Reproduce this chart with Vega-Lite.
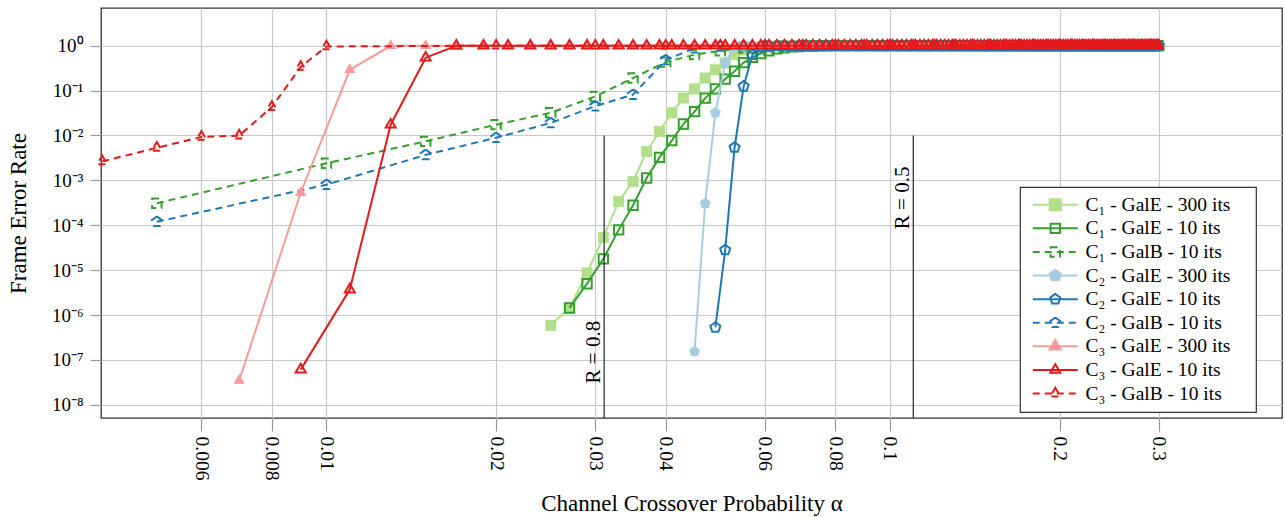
{
"$schema": "https://vega.github.io/schema/vega-lite/v6.json",
"width": 1181, "height": 410,
"autosize": {"type": "none"},
"padding": {"left": 101, "top": 8, "right": 3, "bottom": 99},
"background": "white",
"config": {
  "view": {"stroke": "#333333", "strokeWidth": 1.3},
  "legend": {"orient": "none", "legendX": 919, "legendY": 179, "padding": 8, "strokeColor": "#333333", "strokeWidth": 1.2, "fillColor": "white", "cornerRadius": 0, "labelFont": "Liberation Serif", "labelFontSize": 19.5, "labelColor": "black", "labelOffset": 38, "symbolSize": 144, "symbolStrokeWidth": 2, "symbolOpacity": 1, "rowPadding": 2.6, "labelLimit": 400}
},
"datasets": {
"a": [{"x":0.025,"y":5.9e-7},{"x":0.027,"y":1.44e-6},{"x":0.029,"y":8.7e-6},{"x":0.031,"y":5.3e-5},{"x":0.033,"y":3.4e-4},{"x":0.035,"y":9.5e-4},{"x":0.037,"y":4.4e-3},{"x":0.039,"y":0.0123},{"x":0.041,"y":0.032},{"x":0.043,"y":0.068},{"x":0.045,"y":0.109},{"x":0.047,"y":0.19},{"x":0.049,"y":0.29},{"x":0.051,"y":0.41},{"x":0.053,"y":0.63},{"x":0.055,"y":0.8},{"x":0.057,"y":0.9},{"x":0.059,"y":0.95},{"x":0.061,"y":0.975},{"x":0.063,"y":0.99},{"x":0.065,"y":0.995},
{"x":0.067,"y":1},{"x":0.069,"y":1},{"x":0.071,"y":1},{"x":0.073,"y":1},{"x":0.075,"y":1},{"x":0.077,"y":1},{"x":0.079,"y":1},{"x":0.081,"y":1},{"x":0.083,"y":1},{"x":0.085,"y":1},{"x":0.087,"y":1},{"x":0.089,"y":1},{"x":0.091,"y":1},{"x":0.093,"y":1},{"x":0.095,"y":1},{"x":0.097,"y":1},{"x":0.099,"y":1},
{"x":0.101,"y":1},{"x":0.103,"y":1},{"x":0.105,"y":1},{"x":0.107,"y":1},{"x":0.109,"y":1},{"x":0.111,"y":1},{"x":0.113,"y":1},{"x":0.115,"y":1},{"x":0.117,"y":1},{"x":0.119,"y":1},{"x":0.121,"y":1},{"x":0.123,"y":1},{"x":0.125,"y":1},{"x":0.127,"y":1},{"x":0.129,"y":1},{"x":0.131,"y":1},{"x":0.133,"y":1},{"x":0.135,"y":1},{"x":0.137,"y":1},{"x":0.139,"y":1},{"x":0.141,"y":1},{"x":0.143,"y":1},{"x":0.145,"y":1},{"x":0.147,"y":1},{"x":0.149,"y":1},{"x":0.151,"y":1},{"x":0.153,"y":1},{"x":0.155,"y":1},{"x":0.157,"y":1},{"x":0.159,"y":1},{"x":0.161,"y":1},{"x":0.163,"y":1},{"x":0.165,"y":1},{"x":0.167,"y":1},{"x":0.169,"y":1},{"x":0.171,"y":1},{"x":0.173,"y":1},{"x":0.175,"y":1},{"x":0.177,"y":1},{"x":0.179,"y":1},{"x":0.181,"y":1},{"x":0.183,"y":1},{"x":0.185,"y":1},{"x":0.187,"y":1},{"x":0.189,"y":1},{"x":0.191,"y":1},{"x":0.193,"y":1},{"x":0.195,"y":1},{"x":0.197,"y":1},{"x":0.199,"y":1},
{"x":0.201,"y":1},{"x":0.203,"y":1},{"x":0.205,"y":1},{"x":0.207,"y":1},{"x":0.209,"y":1},{"x":0.211,"y":1},{"x":0.213,"y":1},{"x":0.215,"y":1},{"x":0.217,"y":1},{"x":0.219,"y":1},{"x":0.221,"y":1},{"x":0.223,"y":1},{"x":0.225,"y":1},{"x":0.227,"y":1},{"x":0.229,"y":1},{"x":0.231,"y":1},{"x":0.233,"y":1},{"x":0.235,"y":1},{"x":0.237,"y":1},{"x":0.239,"y":1},{"x":0.241,"y":1},{"x":0.243,"y":1},{"x":0.245,"y":1},{"x":0.247,"y":1},{"x":0.249,"y":1},{"x":0.251,"y":1},{"x":0.253,"y":1},{"x":0.255,"y":1},{"x":0.257,"y":1},{"x":0.259,"y":1},{"x":0.261,"y":1},{"x":0.263,"y":1},{"x":0.265,"y":1},{"x":0.267,"y":1},{"x":0.269,"y":1},{"x":0.271,"y":1},{"x":0.273,"y":1},{"x":0.275,"y":1},{"x":0.277,"y":1},{"x":0.279,"y":1},{"x":0.281,"y":1},{"x":0.283,"y":1},{"x":0.285,"y":1},{"x":0.287,"y":1},{"x":0.289,"y":1},{"x":0.291,"y":1},{"x":0.293,"y":1},{"x":0.295,"y":1},{"x":0.297,"y":1},{"x":0.299,"y":1}],
"b": [{"x":0.027,"y":1.44e-6},{"x":0.029,"y":5e-6},{"x":0.031,"y":1.78e-5},{"x":0.033,"y":7.9e-5},{"x":0.035,"y":2.8e-4},{"x":0.037,"y":1.13e-3},{"x":0.039,"y":3.25e-3},{"x":0.041,"y":7.7e-3},{"x":0.043,"y":0.018},{"x":0.045,"y":0.034},{"x":0.047,"y":0.068},{"x":0.049,"y":0.109},{"x":0.051,"y":0.18},{"x":0.053,"y":0.27},{"x":0.055,"y":0.42},{"x":0.057,"y":0.55},{"x":0.059,"y":0.67},{"x":0.061,"y":0.77},{"x":0.063,"y":0.85},{"x":0.065,"y":0.9},{"x":0.067,"y":0.94},{"x":0.069,"y":0.96},{"x":0.071,"y":0.975},{"x":0.073,"y":0.985},{"x":0.075,"y":0.99},{"x":0.077,"y":0.995},
{"x":0.079,"y":1},{"x":0.081,"y":1},{"x":0.083,"y":1},{"x":0.085,"y":1},{"x":0.087,"y":1},{"x":0.089,"y":1},{"x":0.091,"y":1},{"x":0.093,"y":1},{"x":0.095,"y":1},{"x":0.097,"y":1},{"x":0.099,"y":1},
{"x":0.101,"y":1},{"x":0.103,"y":1},{"x":0.105,"y":1},{"x":0.107,"y":1},{"x":0.109,"y":1},{"x":0.111,"y":1},{"x":0.113,"y":1},{"x":0.115,"y":1},{"x":0.117,"y":1},{"x":0.119,"y":1},{"x":0.121,"y":1},{"x":0.123,"y":1},{"x":0.125,"y":1},{"x":0.127,"y":1},{"x":0.129,"y":1},{"x":0.131,"y":1},{"x":0.133,"y":1},{"x":0.135,"y":1},{"x":0.137,"y":1},{"x":0.139,"y":1},{"x":0.141,"y":1},{"x":0.143,"y":1},{"x":0.145,"y":1},{"x":0.147,"y":1},{"x":0.149,"y":1},{"x":0.151,"y":1},{"x":0.153,"y":1},{"x":0.155,"y":1},{"x":0.157,"y":1},{"x":0.159,"y":1},{"x":0.161,"y":1},{"x":0.163,"y":1},{"x":0.165,"y":1},{"x":0.167,"y":1},{"x":0.169,"y":1},{"x":0.171,"y":1},{"x":0.173,"y":1},{"x":0.175,"y":1},{"x":0.177,"y":1},{"x":0.179,"y":1},{"x":0.181,"y":1},{"x":0.183,"y":1},{"x":0.185,"y":1},{"x":0.187,"y":1},{"x":0.189,"y":1},{"x":0.191,"y":1},{"x":0.193,"y":1},{"x":0.195,"y":1},{"x":0.197,"y":1},{"x":0.199,"y":1},
{"x":0.201,"y":1},{"x":0.203,"y":1},{"x":0.205,"y":1},{"x":0.207,"y":1},{"x":0.209,"y":1},{"x":0.211,"y":1},{"x":0.213,"y":1},{"x":0.215,"y":1},{"x":0.217,"y":1},{"x":0.219,"y":1},{"x":0.221,"y":1},{"x":0.223,"y":1},{"x":0.225,"y":1},{"x":0.227,"y":1},{"x":0.229,"y":1},{"x":0.231,"y":1},{"x":0.233,"y":1},{"x":0.235,"y":1},{"x":0.237,"y":1},{"x":0.239,"y":1},{"x":0.241,"y":1},{"x":0.243,"y":1},{"x":0.245,"y":1},{"x":0.247,"y":1},{"x":0.249,"y":1},{"x":0.251,"y":1},{"x":0.253,"y":1},{"x":0.255,"y":1},{"x":0.257,"y":1},{"x":0.259,"y":1},{"x":0.261,"y":1},{"x":0.263,"y":1},{"x":0.265,"y":1},{"x":0.267,"y":1},{"x":0.269,"y":1},{"x":0.271,"y":1},{"x":0.273,"y":1},{"x":0.275,"y":1},{"x":0.277,"y":1},{"x":0.279,"y":1},{"x":0.281,"y":1},{"x":0.283,"y":1},{"x":0.285,"y":1},{"x":0.287,"y":1},{"x":0.289,"y":1},{"x":0.291,"y":1},{"x":0.293,"y":1},{"x":0.295,"y":1},{"x":0.297,"y":1},{"x":0.299,"y":1}],
"c": [{"x":0.005,"y":3.1e-4},{"x":0.01,"y":2.4e-3},{"x":0.015,"y":7.4e-3},{"x":0.02,"y":0.0174},{"x":0.025,"y":0.032},{"x":0.03,"y":0.074},{"x":0.035,"y":0.19},{"x":0.04,"y":0.43},{"x":0.045,"y":0.63},{"x":0.05,"y":0.77},{"x":0.055,"y":0.88},{"x":0.06,"y":0.94},{"x":0.065,"y":0.97},{"x":0.07,"y":0.985},{"x":0.075,"y":0.995},{"x":0.08,"y":1},{"x":0.085,"y":1},{"x":0.09,"y":1},{"x":0.095,"y":1},{"x":0.1,"y":1},{"x":0.105,"y":1},{"x":0.11,"y":1},{"x":0.115,"y":1},{"x":0.12,"y":1},{"x":0.125,"y":1},{"x":0.13,"y":1},{"x":0.135,"y":1},{"x":0.14,"y":1},{"x":0.145,"y":1},{"x":0.15,"y":1},{"x":0.155,"y":1},{"x":0.16,"y":1},{"x":0.165,"y":1},{"x":0.17,"y":1},{"x":0.175,"y":1},{"x":0.18,"y":1},{"x":0.185,"y":1},{"x":0.19,"y":1},{"x":0.195,"y":1},{"x":0.2,"y":1},{"x":0.205,"y":1},{"x":0.21,"y":1},{"x":0.215,"y":1},{"x":0.22,"y":1},{"x":0.225,"y":1},{"x":0.23,"y":1},{"x":0.235,"y":1},{"x":0.24,"y":1},{"x":0.245,"y":1},{"x":0.25,"y":1},{"x":0.255,"y":1},{"x":0.26,"y":1},{"x":0.265,"y":1},{"x":0.27,"y":1},{"x":0.275,"y":1},{"x":0.28,"y":1},{"x":0.285,"y":1},{"x":0.29,"y":1},{"x":0.295,"y":1},{"x":0.3,"y":1}],
"d": [{"x":0.005,"y":1.2e-4},{"x":0.01,"y":8e-4},{"x":0.015,"y":3.7e-3},{"x":0.02,"y":8.9e-3},{"x":0.025,"y":0.019},{"x":0.03,"y":0.045},{"x":0.035,"y":0.081},{"x":0.04,"y":0.48},{"x":0.045,"y":0.88},{"x":0.05,"y":0.96},{"x":0.055,"y":0.99},{"x":0.06,"y":1},{"x":0.065,"y":1},{"x":0.07,"y":1},{"x":0.075,"y":1},{"x":0.08,"y":1},{"x":0.085,"y":1},{"x":0.09,"y":1},{"x":0.095,"y":1},{"x":0.1,"y":1},{"x":0.105,"y":1},{"x":0.11,"y":1},{"x":0.115,"y":1},{"x":0.12,"y":1},{"x":0.125,"y":1},{"x":0.13,"y":1},{"x":0.135,"y":1},{"x":0.14,"y":1},{"x":0.145,"y":1},{"x":0.15,"y":1},{"x":0.155,"y":1},{"x":0.16,"y":1},{"x":0.165,"y":1},{"x":0.17,"y":1},{"x":0.175,"y":1},{"x":0.18,"y":1},{"x":0.185,"y":1},{"x":0.19,"y":1},{"x":0.195,"y":1},{"x":0.2,"y":1},{"x":0.205,"y":1},{"x":0.21,"y":1},{"x":0.215,"y":1},{"x":0.22,"y":1},{"x":0.225,"y":1},{"x":0.23,"y":1},{"x":0.235,"y":1},{"x":0.24,"y":1},{"x":0.245,"y":1},{"x":0.25,"y":1},{"x":0.255,"y":1},{"x":0.26,"y":1},{"x":0.265,"y":1},{"x":0.27,"y":1},{"x":0.275,"y":1},{"x":0.28,"y":1},{"x":0.285,"y":1},{"x":0.29,"y":1},{"x":0.295,"y":1},{"x":0.3,"y":1}],
"e": [{"x":0.045,"y":1.55e-7},{"x":0.047,"y":3.1e-4},{"x":0.049,"y":0.032},{"x":0.051,"y":0.42},{"x":0.053,"y":0.93},{"x":0.055,"y":0.995},
{"x":0.057,"y":1},{"x":0.059,"y":1},{"x":0.061,"y":1},{"x":0.063,"y":1},{"x":0.065,"y":1},{"x":0.067,"y":1},{"x":0.069,"y":1},{"x":0.071,"y":1},{"x":0.073,"y":1},{"x":0.075,"y":1},{"x":0.077,"y":1},{"x":0.079,"y":1},{"x":0.081,"y":1},{"x":0.083,"y":1},{"x":0.085,"y":1},{"x":0.087,"y":1},{"x":0.089,"y":1},{"x":0.091,"y":1},{"x":0.093,"y":1},{"x":0.095,"y":1},{"x":0.097,"y":1},{"x":0.099,"y":1},
{"x":0.101,"y":1},{"x":0.103,"y":1},{"x":0.105,"y":1},{"x":0.107,"y":1},{"x":0.109,"y":1},{"x":0.111,"y":1},{"x":0.113,"y":1},{"x":0.115,"y":1},{"x":0.117,"y":1},{"x":0.119,"y":1},{"x":0.121,"y":1},{"x":0.123,"y":1},{"x":0.125,"y":1},{"x":0.127,"y":1},{"x":0.129,"y":1},{"x":0.131,"y":1},{"x":0.133,"y":1},{"x":0.135,"y":1},{"x":0.137,"y":1},{"x":0.139,"y":1},{"x":0.141,"y":1},{"x":0.143,"y":1},{"x":0.145,"y":1},{"x":0.147,"y":1},{"x":0.149,"y":1},{"x":0.151,"y":1},{"x":0.153,"y":1},{"x":0.155,"y":1},{"x":0.157,"y":1},{"x":0.159,"y":1},{"x":0.161,"y":1},{"x":0.163,"y":1},{"x":0.165,"y":1},{"x":0.167,"y":1},{"x":0.169,"y":1},{"x":0.171,"y":1},{"x":0.173,"y":1},{"x":0.175,"y":1},{"x":0.177,"y":1},{"x":0.179,"y":1},{"x":0.181,"y":1},{"x":0.183,"y":1},{"x":0.185,"y":1},{"x":0.187,"y":1},{"x":0.189,"y":1},{"x":0.191,"y":1},{"x":0.193,"y":1},{"x":0.195,"y":1},{"x":0.197,"y":1},{"x":0.199,"y":1},
{"x":0.201,"y":1},{"x":0.203,"y":1},{"x":0.205,"y":1},{"x":0.207,"y":1},{"x":0.209,"y":1},{"x":0.211,"y":1},{"x":0.213,"y":1},{"x":0.215,"y":1},{"x":0.217,"y":1},{"x":0.219,"y":1},{"x":0.221,"y":1},{"x":0.223,"y":1},{"x":0.225,"y":1},{"x":0.227,"y":1},{"x":0.229,"y":1},{"x":0.231,"y":1},{"x":0.233,"y":1},{"x":0.235,"y":1},{"x":0.237,"y":1},{"x":0.239,"y":1},{"x":0.241,"y":1},{"x":0.243,"y":1},{"x":0.245,"y":1},{"x":0.247,"y":1},{"x":0.249,"y":1},{"x":0.251,"y":1},{"x":0.253,"y":1},{"x":0.255,"y":1},{"x":0.257,"y":1},{"x":0.259,"y":1},{"x":0.261,"y":1},{"x":0.263,"y":1},{"x":0.265,"y":1},{"x":0.267,"y":1},{"x":0.269,"y":1},{"x":0.271,"y":1},{"x":0.273,"y":1},{"x":0.275,"y":1},{"x":0.277,"y":1},{"x":0.279,"y":1},{"x":0.281,"y":1},{"x":0.283,"y":1},{"x":0.285,"y":1},{"x":0.287,"y":1},{"x":0.289,"y":1},{"x":0.291,"y":1},{"x":0.293,"y":1},{"x":0.295,"y":1},{"x":0.297,"y":1},{"x":0.299,"y":1}],
"f": [{"x":0.049,"y":5.3e-7},{"x":0.051,"y":2.8e-5},{"x":0.053,"y":5.4e-3},{"x":0.055,"y":0.124},{"x":0.057,"y":0.63},{"x":0.059,"y":0.93},{"x":0.061,"y":0.99},
{"x":0.063,"y":1},{"x":0.065,"y":1},{"x":0.067,"y":1},{"x":0.069,"y":1},{"x":0.071,"y":1},{"x":0.073,"y":1},{"x":0.075,"y":1},{"x":0.077,"y":1},{"x":0.079,"y":1},{"x":0.081,"y":1},{"x":0.083,"y":1},{"x":0.085,"y":1},{"x":0.087,"y":1},{"x":0.089,"y":1},{"x":0.091,"y":1},{"x":0.093,"y":1},{"x":0.095,"y":1},{"x":0.097,"y":1},{"x":0.099,"y":1},
{"x":0.101,"y":1},{"x":0.103,"y":1},{"x":0.105,"y":1},{"x":0.107,"y":1},{"x":0.109,"y":1},{"x":0.111,"y":1},{"x":0.113,"y":1},{"x":0.115,"y":1},{"x":0.117,"y":1},{"x":0.119,"y":1},{"x":0.121,"y":1},{"x":0.123,"y":1},{"x":0.125,"y":1},{"x":0.127,"y":1},{"x":0.129,"y":1},{"x":0.131,"y":1},{"x":0.133,"y":1},{"x":0.135,"y":1},{"x":0.137,"y":1},{"x":0.139,"y":1},{"x":0.141,"y":1},{"x":0.143,"y":1},{"x":0.145,"y":1},{"x":0.147,"y":1},{"x":0.149,"y":1},{"x":0.151,"y":1},{"x":0.153,"y":1},{"x":0.155,"y":1},{"x":0.157,"y":1},{"x":0.159,"y":1},{"x":0.161,"y":1},{"x":0.163,"y":1},{"x":0.165,"y":1},{"x":0.167,"y":1},{"x":0.169,"y":1},{"x":0.171,"y":1},{"x":0.173,"y":1},{"x":0.175,"y":1},{"x":0.177,"y":1},{"x":0.179,"y":1},{"x":0.181,"y":1},{"x":0.183,"y":1},{"x":0.185,"y":1},{"x":0.187,"y":1},{"x":0.189,"y":1},{"x":0.191,"y":1},{"x":0.193,"y":1},{"x":0.195,"y":1},{"x":0.197,"y":1},{"x":0.199,"y":1},
{"x":0.201,"y":1},{"x":0.203,"y":1},{"x":0.205,"y":1},{"x":0.207,"y":1},{"x":0.209,"y":1},{"x":0.211,"y":1},{"x":0.213,"y":1},{"x":0.215,"y":1},{"x":0.217,"y":1},{"x":0.219,"y":1},{"x":0.221,"y":1},{"x":0.223,"y":1},{"x":0.225,"y":1},{"x":0.227,"y":1},{"x":0.229,"y":1},{"x":0.231,"y":1},{"x":0.233,"y":1},{"x":0.235,"y":1},{"x":0.237,"y":1},{"x":0.239,"y":1},{"x":0.241,"y":1},{"x":0.243,"y":1},{"x":0.245,"y":1},{"x":0.247,"y":1},{"x":0.249,"y":1},{"x":0.251,"y":1},{"x":0.253,"y":1},{"x":0.255,"y":1},{"x":0.257,"y":1},{"x":0.259,"y":1},{"x":0.261,"y":1},{"x":0.263,"y":1},{"x":0.265,"y":1},{"x":0.267,"y":1},{"x":0.269,"y":1},{"x":0.271,"y":1},{"x":0.273,"y":1},{"x":0.275,"y":1},{"x":0.277,"y":1},{"x":0.279,"y":1},{"x":0.281,"y":1},{"x":0.283,"y":1},{"x":0.285,"y":1},{"x":0.287,"y":1},{"x":0.289,"y":1},{"x":0.291,"y":1},{"x":0.293,"y":1},{"x":0.295,"y":1},{"x":0.297,"y":1},{"x":0.299,"y":1}],
"g": [{"x":0.007,"y":3.5e-8},{"x":0.009,"y":5.3e-4},{"x":0.011,"y":0.29},{"x":0.013,"y":0.99},
{"x":0.015,"y":1},{"x":0.017,"y":1},{"x":0.019,"y":1},{"x":0.021,"y":1},{"x":0.023,"y":1},{"x":0.025,"y":1},{"x":0.027,"y":1},{"x":0.029,"y":1},{"x":0.031,"y":1},{"x":0.033,"y":1},{"x":0.035,"y":1},{"x":0.037,"y":1},{"x":0.039,"y":1},{"x":0.041,"y":1},{"x":0.043,"y":1},{"x":0.045,"y":1},{"x":0.047,"y":1},{"x":0.049,"y":1},{"x":0.051,"y":1},{"x":0.053,"y":1},{"x":0.055,"y":1},{"x":0.057,"y":1},{"x":0.059,"y":1},{"x":0.061,"y":1},{"x":0.063,"y":1},{"x":0.065,"y":1},{"x":0.067,"y":1},{"x":0.069,"y":1},{"x":0.071,"y":1},{"x":0.073,"y":1},{"x":0.075,"y":1},{"x":0.077,"y":1},{"x":0.079,"y":1},{"x":0.081,"y":1},{"x":0.083,"y":1},{"x":0.085,"y":1},{"x":0.087,"y":1},{"x":0.089,"y":1},{"x":0.091,"y":1},{"x":0.093,"y":1},{"x":0.095,"y":1},{"x":0.097,"y":1},{"x":0.099,"y":1},
{"x":0.101,"y":1},{"x":0.103,"y":1},{"x":0.105,"y":1},{"x":0.107,"y":1},{"x":0.109,"y":1},{"x":0.111,"y":1},{"x":0.113,"y":1},{"x":0.115,"y":1},{"x":0.117,"y":1},{"x":0.119,"y":1},{"x":0.121,"y":1},{"x":0.123,"y":1},{"x":0.125,"y":1},{"x":0.127,"y":1},{"x":0.129,"y":1},{"x":0.131,"y":1},{"x":0.133,"y":1},{"x":0.135,"y":1},{"x":0.137,"y":1},{"x":0.139,"y":1},{"x":0.141,"y":1},{"x":0.143,"y":1},{"x":0.145,"y":1},{"x":0.147,"y":1},{"x":0.149,"y":1},{"x":0.151,"y":1},{"x":0.153,"y":1},{"x":0.155,"y":1},{"x":0.157,"y":1},{"x":0.159,"y":1},{"x":0.161,"y":1},{"x":0.163,"y":1},{"x":0.165,"y":1},{"x":0.167,"y":1},{"x":0.169,"y":1},{"x":0.171,"y":1},{"x":0.173,"y":1},{"x":0.175,"y":1},{"x":0.177,"y":1},{"x":0.179,"y":1},{"x":0.181,"y":1},{"x":0.183,"y":1},{"x":0.185,"y":1},{"x":0.187,"y":1},{"x":0.189,"y":1},{"x":0.191,"y":1},{"x":0.193,"y":1},{"x":0.195,"y":1},{"x":0.197,"y":1},{"x":0.199,"y":1},
{"x":0.201,"y":1},{"x":0.203,"y":1},{"x":0.205,"y":1},{"x":0.207,"y":1},{"x":0.209,"y":1},{"x":0.211,"y":1},{"x":0.213,"y":1},{"x":0.215,"y":1},{"x":0.217,"y":1},{"x":0.219,"y":1},{"x":0.221,"y":1},{"x":0.223,"y":1},{"x":0.225,"y":1},{"x":0.227,"y":1},{"x":0.229,"y":1},{"x":0.231,"y":1},{"x":0.233,"y":1},{"x":0.235,"y":1},{"x":0.237,"y":1},{"x":0.239,"y":1},{"x":0.241,"y":1},{"x":0.243,"y":1},{"x":0.245,"y":1},{"x":0.247,"y":1},{"x":0.249,"y":1},{"x":0.251,"y":1},{"x":0.253,"y":1},{"x":0.255,"y":1},{"x":0.257,"y":1},{"x":0.259,"y":1},{"x":0.261,"y":1},{"x":0.263,"y":1},{"x":0.265,"y":1},{"x":0.267,"y":1},{"x":0.269,"y":1},{"x":0.271,"y":1},{"x":0.273,"y":1},{"x":0.275,"y":1},{"x":0.277,"y":1},{"x":0.279,"y":1},{"x":0.281,"y":1},{"x":0.283,"y":1},{"x":0.285,"y":1},{"x":0.287,"y":1},{"x":0.289,"y":1},{"x":0.291,"y":1},{"x":0.293,"y":1},{"x":0.295,"y":1},{"x":0.297,"y":1},{"x":0.299,"y":1}],
"h": [{"x":0.009,"y":6.1e-8},{"x":0.011,"y":3.7e-6},{"x":0.013,"y":0.0174},{"x":0.015,"y":0.54},{"x":0.017,"y":0.99},
{"x":0.019,"y":1},{"x":0.021,"y":1},{"x":0.023,"y":1},{"x":0.025,"y":1},{"x":0.027,"y":1},{"x":0.029,"y":1},{"x":0.031,"y":1},{"x":0.033,"y":1},{"x":0.035,"y":1},{"x":0.037,"y":1},{"x":0.039,"y":1},{"x":0.041,"y":1},{"x":0.043,"y":1},{"x":0.045,"y":1},{"x":0.047,"y":1},{"x":0.049,"y":1},{"x":0.051,"y":1},{"x":0.053,"y":1},{"x":0.055,"y":1},{"x":0.057,"y":1},{"x":0.059,"y":1},{"x":0.061,"y":1},{"x":0.063,"y":1},{"x":0.065,"y":1},{"x":0.067,"y":1},{"x":0.069,"y":1},{"x":0.071,"y":1},{"x":0.073,"y":1},{"x":0.075,"y":1},{"x":0.077,"y":1},{"x":0.079,"y":1},{"x":0.081,"y":1},{"x":0.083,"y":1},{"x":0.085,"y":1},{"x":0.087,"y":1},{"x":0.089,"y":1},{"x":0.091,"y":1},{"x":0.093,"y":1},{"x":0.095,"y":1},{"x":0.097,"y":1},{"x":0.099,"y":1},
{"x":0.101,"y":1},{"x":0.103,"y":1},{"x":0.105,"y":1},{"x":0.107,"y":1},{"x":0.109,"y":1},{"x":0.111,"y":1},{"x":0.113,"y":1},{"x":0.115,"y":1},{"x":0.117,"y":1},{"x":0.119,"y":1},{"x":0.121,"y":1},{"x":0.123,"y":1},{"x":0.125,"y":1},{"x":0.127,"y":1},{"x":0.129,"y":1},{"x":0.131,"y":1},{"x":0.133,"y":1},{"x":0.135,"y":1},{"x":0.137,"y":1},{"x":0.139,"y":1},{"x":0.141,"y":1},{"x":0.143,"y":1},{"x":0.145,"y":1},{"x":0.147,"y":1},{"x":0.149,"y":1},{"x":0.151,"y":1},{"x":0.153,"y":1},{"x":0.155,"y":1},{"x":0.157,"y":1},{"x":0.159,"y":1},{"x":0.161,"y":1},{"x":0.163,"y":1},{"x":0.165,"y":1},{"x":0.167,"y":1},{"x":0.169,"y":1},{"x":0.171,"y":1},{"x":0.173,"y":1},{"x":0.175,"y":1},{"x":0.177,"y":1},{"x":0.179,"y":1},{"x":0.181,"y":1},{"x":0.183,"y":1},{"x":0.185,"y":1},{"x":0.187,"y":1},{"x":0.189,"y":1},{"x":0.191,"y":1},{"x":0.193,"y":1},{"x":0.195,"y":1},{"x":0.197,"y":1},{"x":0.199,"y":1},
{"x":0.201,"y":1},{"x":0.203,"y":1},{"x":0.205,"y":1},{"x":0.207,"y":1},{"x":0.209,"y":1},{"x":0.211,"y":1},{"x":0.213,"y":1},{"x":0.215,"y":1},{"x":0.217,"y":1},{"x":0.219,"y":1},{"x":0.221,"y":1},{"x":0.223,"y":1},{"x":0.225,"y":1},{"x":0.227,"y":1},{"x":0.229,"y":1},{"x":0.231,"y":1},{"x":0.233,"y":1},{"x":0.235,"y":1},{"x":0.237,"y":1},{"x":0.239,"y":1},{"x":0.241,"y":1},{"x":0.243,"y":1},{"x":0.245,"y":1},{"x":0.247,"y":1},{"x":0.249,"y":1},{"x":0.251,"y":1},{"x":0.253,"y":1},{"x":0.255,"y":1},{"x":0.257,"y":1},{"x":0.259,"y":1},{"x":0.261,"y":1},{"x":0.263,"y":1},{"x":0.265,"y":1},{"x":0.267,"y":1},{"x":0.269,"y":1},{"x":0.271,"y":1},{"x":0.273,"y":1},{"x":0.275,"y":1},{"x":0.277,"y":1},{"x":0.279,"y":1},{"x":0.281,"y":1},{"x":0.283,"y":1},{"x":0.285,"y":1},{"x":0.287,"y":1},{"x":0.289,"y":1},{"x":0.291,"y":1},{"x":0.293,"y":1},{"x":0.295,"y":1},{"x":0.297,"y":1},{"x":0.299,"y":1}],
"i": [{"x":0.004,"y":2.65e-3},{"x":0.005,"y":5.3e-3},{"x":0.006,"y":9.3e-3},{"x":0.007,"y":9.9e-3},{"x":0.008,"y":0.043},{"x":0.009,"y":0.336},{"x":0.01,"y":0.96},{"x":0.02,"y":1},{"x":0.03,"y":1},{"x":0.04,"y":1},{"x":0.05,"y":1},{"x":0.06,"y":1},{"x":0.07,"y":1},{"x":0.08,"y":1},{"x":0.09,"y":1},{"x":0.1,"y":1},{"x":0.11,"y":1},{"x":0.12,"y":1},{"x":0.13,"y":1},{"x":0.14,"y":1},{"x":0.15,"y":1},{"x":0.16,"y":1},{"x":0.17,"y":1},{"x":0.18,"y":1},{"x":0.19,"y":1},{"x":0.2,"y":1},{"x":0.21,"y":1},{"x":0.22,"y":1},{"x":0.23,"y":1},{"x":0.24,"y":1},{"x":0.25,"y":1},{"x":0.26,"y":1},{"x":0.27,"y":1},{"x":0.28,"y":1},{"x":0.29,"y":1},{"x":0.3,"y":1}],
"rules": [{"x":0.0311,"y":0.01,"y2":5.1e-9},{"x":0.11,"y":0.01,"y2":5.1e-9}],
"notes": [{"x":0.0311,"y":2.5e-7,"t":"R = 0.8"},{"x":0.11,"y":6.8e-4,"t":"R = 0.5"}],
"leg": [{"s":"C₁ - GalE - 300 its"},{"s":"C₁ - GalE - 10 its"},{"s":"C₁ - GalB - 10 its"},{"s":"C₂ - GalE - 300 its"},{"s":"C₂ - GalE - 10 its"},{"s":"C₂ - GalB - 10 its"},{"s":"C₃ - GalE - 300 its"},{"s":"C₃ - GalE - 10 its"},{"s":"C₃ - GalB - 10 its"}]
},
"encoding": {
  "x": {"field": "x", "type": "quantitative",
    "scale": {"type": "log", "domain": [0.00398, 0.4963], "nice": false},
    "axis": {"values": [0.006, 0.008, 0.01, 0.02, 0.03, 0.04, 0.06, 0.08, 0.1, 0.2, 0.3], "format": "~g", "labelAngle": 90, "labelAlign": "left", "labelBaseline": "middle", "labelPadding": 5, "labelOverlap": false, "labelFlush": false, "tickSize": 13, "tickColor": "#9a9a9a", "tickWidth": 1.2, "grid": true, "gridColor": "#c8c8c8", "gridWidth": 1.2, "domain": false, "labelFont": "Liberation Serif", "labelFontSize": 19.5, "labelColor": "black", "title": "Channel Crossover Probability α", "titleFont": "Liberation Serif", "titleFontSize": 23, "titleFontWeight": "normal", "titleColor": "black", "titleY": 92, "titleBaseline": "alphabetic"}},
  "y": {"field": "y", "type": "quantitative",
    "scale": {"type": "log", "domain": [5.1e-9, 6.9], "nice": false},
    "axis": {"values": [1e-8, 1e-7, 1e-6, 1e-5, 1e-4, 0.001, 0.01, 0.1, 1], "labelExpr": "['10⁰','10⁻¹','10⁻²','10⁻³','10⁻⁴','10⁻⁵','10⁻⁶','10⁻⁷','10⁻⁸'][round(-log(datum.value)/LN10)]", "tickSize": 11, "tickColor": "#9a9a9a", "tickWidth": 1.2, "labelPadding": 7, "grid": true, "gridColor": "#c8c8c8", "gridWidth": 1.2, "domain": false, "labelFont": "Liberation Serif", "labelFontSize": 19, "labelColor": "black", "labelOverlap": false, "title": "Frame Error Rate", "titleFont": "Liberation Serif", "titleFontSize": 23, "titleFontWeight": "normal", "titleColor": "black", "titleX": -83, "titleY": 205, "titleAngle": 270, "titleAlign": "center", "titleBaseline": "middle"}}
},
"layer": [
  {"data": {"name": "a"}, "layer": [
    {"mark": {"type": "line", "color": "#b2df8a", "strokeWidth": 2}},
    {"mark": {"type": "point", "shape": "square", "size": 121, "filled": true, "color": "#b2df8a", "strokeWidth": 1, "opacity": 1}}]},
  {"data": {"name": "b"}, "layer": [
    {"mark": {"type": "line", "color": "#33a02c", "strokeWidth": 2}},
    {"mark": {"type": "point", "shape": "square", "size": 88, "filled": false, "color": "#33a02c", "strokeWidth": 2, "opacity": 1}}]},
  {"data": {"name": "c"}, "layer": [
    {"mark": {"type": "line", "color": "#33a02c", "strokeWidth": 2, "strokeDash": [7, 5]}},
    {"mark": {"type": "point", "shape": "square", "size": 88, "filled": false, "color": "#33a02c", "strokeWidth": 2, "opacity": 1, "strokeDash": [7, 5]}}]},
  {"data": {"name": "d"}, "layer": [
    {"mark": {"type": "line", "color": "#1f78b4", "strokeWidth": 2, "strokeDash": [7, 5]}},
    {"mark": {"type": "point", "shape": "M0,-1L0.951,-0.309L0.588,0.809L-0.588,0.809L-0.951,-0.309Z", "size": 112, "filled": false, "color": "#1f78b4", "strokeWidth": 2, "opacity": 1, "strokeDash": [7, 5]}}]},
  {"data": {"name": "e"}, "layer": [
    {"mark": {"type": "line", "color": "#a6cee3", "strokeWidth": 2}},
    {"mark": {"type": "point", "shape": "M0,-1L0.951,-0.309L0.588,0.809L-0.588,0.809L-0.951,-0.309Z", "size": 134, "filled": true, "color": "#a6cee3", "strokeWidth": 1, "opacity": 1}}]},
  {"data": {"name": "f"}, "layer": [
    {"mark": {"type": "line", "color": "#1f78b4", "strokeWidth": 2}},
    {"mark": {"type": "point", "shape": "M0,-1L0.951,-0.309L0.588,0.809L-0.588,0.809L-0.951,-0.309Z", "size": 112, "filled": false, "color": "#1f78b4", "strokeWidth": 2, "opacity": 1}}]},
  {"data": {"name": "g"}, "layer": [
    {"mark": {"type": "line", "color": "#fb9a99", "strokeWidth": 2}},
    {"mark": {"type": "point", "shape": "M0,-1L0.866,0.5L-0.866,0.5Z", "size": 169, "filled": true, "color": "#fb9a99", "strokeWidth": 1, "opacity": 1}}]},
  {"data": {"name": "h"}, "layer": [
    {"mark": {"type": "line", "color": "#e31a1c", "strokeWidth": 2}},
    {"mark": {"type": "point", "shape": "M0,-1L0.866,0.5L-0.866,0.5Z", "size": 134, "filled": false, "color": "#e31a1c", "strokeWidth": 2, "opacity": 1}}]},
  {"data": {"name": "i"}, "layer": [
    {"mark": {"type": "line", "color": "#e31a1c", "strokeWidth": 2, "strokeDash": [7, 5]}},
    {"mark": {"type": "point", "shape": "M0,-1L0.866,0.5L-0.866,0.5Z", "size": 134, "filled": false, "color": "#e31a1c", "strokeWidth": 2, "opacity": 1, "strokeDash": [7, 5]}}]},
  {"data": {"name": "rules"}, "mark": {"type": "rule", "color": "#222222", "strokeWidth": 1.2},
    "encoding": {"y2": {"field": "y2"}}},
  {"data": {"name": "notes"}, "mark": {"type": "text", "angle": 270, "baseline": "bottom", "align": "center", "dx": -10, "font": "Liberation Serif", "fontSize": 21, "color": "black"},
    "encoding": {"text": {"field": "t"}}},
  {"data": {"name": "leg"}, "mark": {"type": "point", "opacity": 0},
    "encoding": {
      "x": {"datum": 0.1},
      "y": {"datum": 1},
      "stroke": {"field": "s", "type": "nominal", "legend": {"title": null},
        "scale": {"domain": ["C₁ - GalE - 300 its","C₁ - GalE - 10 its","C₁ - GalB - 10 its","C₂ - GalE - 300 its","C₂ - GalE - 10 its","C₂ - GalB - 10 its","C₃ - GalE - 300 its","C₃ - GalE - 10 its","C₃ - GalB - 10 its"],
          "range": ["#b2df8a","#33a02c","#33a02c","#a6cee3","#1f78b4","#1f78b4","#fb9a99","#e31a1c","#e31a1c"]}},
      "fill": {"field": "s", "type": "nominal", "legend": {"title": null},
        "scale": {"domain": ["C₁ - GalE - 300 its","C₁ - GalE - 10 its","C₁ - GalB - 10 its","C₂ - GalE - 300 its","C₂ - GalE - 10 its","C₂ - GalB - 10 its","C₃ - GalE - 300 its","C₃ - GalE - 10 its","C₃ - GalB - 10 its"],
          "range": ["#b2df8a","transparent","transparent","#a6cee3","transparent","transparent","#fb9a99","transparent","transparent"]}},
      "shape": {"field": "s", "type": "nominal", "legend": {"title": null},
        "scale": {"domain": ["C₁ - GalE - 300 its","C₁ - GalE - 10 its","C₁ - GalB - 10 its","C₂ - GalE - 300 its","C₂ - GalE - 10 its","C₂ - GalB - 10 its","C₃ - GalE - 300 its","C₃ - GalE - 10 its","C₃ - GalB - 10 its"],
          "range": [
            "M-0.83,0H6.67M2,-0.92H3.84V0.92H2ZM34.3,0",
            "M-0.83,0H6.67M2.14,-0.78H3.7V0.78H2.14ZM34.3,0",
            "M-0.83,0H6.67M2.14,-0.78H3.7V0.78H2.14ZM34.3,0",
            "M-0.83,0H6.67M2.92,-0.97L3.84,-0.3L3.49,0.785L2.35,0.785L2,-0.3ZM34.3,0",
            "M-0.83,0H6.67M2.92,-0.88L3.757,-0.272L3.437,0.712L2.403,0.712L2.083,-0.272ZM34.3,0",
            "M-0.83,0H6.67M2.92,-0.88L3.757,-0.272L3.437,0.712L2.403,0.712L2.083,-0.272ZM34.3,0",
            "M-0.83,0H6.67M2.92,-1.08L3.855,0.54L1.985,0.54ZM34.3,0",
            "M-0.83,0H6.67M2.92,-0.97L3.76,0.485L2.08,0.485ZM34.3,0",
            "M-0.83,0H6.67M2.92,-0.97L3.76,0.485L2.08,0.485ZM34.3,0"]}},
      "strokeDash": {"field": "s", "type": "nominal", "legend": {"title": null},
        "scale": {"domain": ["C₁ - GalE - 300 its","C₁ - GalE - 10 its","C₁ - GalB - 10 its","C₂ - GalE - 300 its","C₂ - GalE - 10 its","C₂ - GalB - 10 its","C₃ - GalE - 300 its","C₃ - GalE - 10 its","C₃ - GalB - 10 its"],
          "range": [[1,0],[1,0],[7,5],[1,0],[1,0],[7,5],[1,0],[1,0],[7,5]]}}
    }}
]
}
